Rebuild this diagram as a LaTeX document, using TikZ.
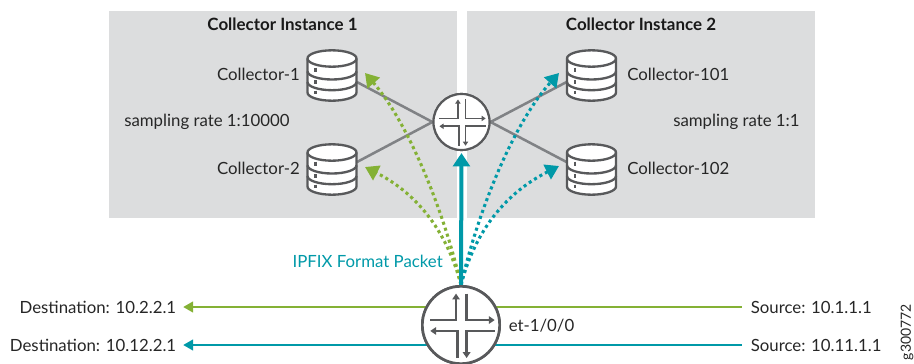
\documentclass[tikz,border=0pt]{standalone}
\usepackage{fontspec}
\setmainfont{Lato}
\usetikzlibrary{arrows.meta}
\definecolor{jgreen}{HTML}{84B135}
\definecolor{jteal}{HTML}{0099A8}
\definecolor{jgray}{HTML}{DCDDDE}
\definecolor{jdark}{HTML}{58595B}
\definecolor{jline}{HTML}{808285}
\tikzset{
  x=0.75pt,y=-0.75pt,
  panel/.style={fill=jgray,draw=none,inner sep=0pt,minimum width=261pt,minimum height=155.25pt},
  lbl/.style={font=\fontsize{12.6pt}{14pt}\selectfont,text=black!85,inner sep=0pt},
  ttl/.style={font=\fontsize{12.7pt}{14pt}\selectfont\bfseries,text=black!90,inner sep=0pt},
  store/.style={rectangle,inner sep=0pt,minimum width=37pt,minimum height=38pt,draw=none},
  rtr/.style={circle,fill=white,draw=jdark,inner sep=0pt},
  link/.style={jline,line width=1.9pt},
  dotg/.style={jgreen,line width=2.3pt,dash pattern=on 2.3pt off 2.4pt,-{Triangle[length=10pt,width=12pt,fill=jgreen]}},
  dott/.style={jteal,line width=2.3pt,dash pattern=on 2.3pt off 2.4pt,-{Triangle[length=10pt,width=12pt,fill=jteal]}},
  flowg/.style={jgreen,line width=1.8pt,-{Triangle[length=7.5pt,width=8pt]}},
  flowt/.style={jteal,line width=1.8pt,-{Triangle[length=7.5pt,width=8pt]}},
}
% database cylinder centred on (#1,#2), 49.5 x 50.5 px
\newcommand{\dbicon}[2]{%
\begin{scope}[shift={(#1,#2)},draw=jdark,line width=1.75pt,fill=white]
  \filldraw (-24.5,-17) -- (-24.5,17) arc[x radius=24.5,y radius=8.2,start angle=180,end angle=0] -- (24.5,-17) arc[x radius=24.5,y radius=8.2,start angle=0,end angle=-180] -- cycle;
  \draw (-24.5,-17) arc[x radius=24.5,y radius=8.2,start angle=180,end angle=0];
  \draw (-24.5,-4.2) arc[x radius=24.5,y radius=8.2,start angle=180,end angle=0];
  \draw (-24.5,6.5) arc[x radius=24.5,y radius=8.2,start angle=180,end angle=0];
  \draw (-16.5,-8) -- (-16.5,-3.5);
  \draw (-16.5,4.5) -- (-16.5,8);
  \draw (-16.5,15) -- (-16.5,18.5);
\end{scope}}
% router glyph centred on (#1,#2), radius #3 px
\newcommand{\rtrglyph}[4]{%
\begin{scope}[shift={(#1,#2)},x=#3*0.75pt/118,y=-#3*0.75pt/118,jdark,line width=#4,-{Triangle[length=2.2*#4,width=2.8*#4]},line join=miter]
  \draw (-93,-15) -- (-15,-15) -- (-15,-95);
  \draw (17,-95) -- (17,-15) -- (102,-15);
  \draw (102,18) -- (17,18) -- (17,100);
  \draw (-11,100) -- (-11,18) -- (-93,18);
\end{scope}}
\begin{document}
\begin{tikzpicture}
\useasboundingbox (0,0) rectangle (914,364);
\node[panel] (p1) at (283,114.5) {};
\node[panel] (p2) at (641,114.5) {};
\node[ttl] (t1) at (282.5,24.5) {Collector Instance 1};
\node[ttl] (t2) at (641,24.5) {Collector Instance 2};

\node[store] (c1) at (332,75.5) {};
\node[store] (c2) at (332,169.5) {};
\node[store] (c3) at (591.5,75.5) {};
\node[store] (c4) at (591.5,169.5) {};
\node[rtr,minimum size=42pt,line width=1.6pt] (r1) at (461.5,122) {};
\node[rtr,minimum size=58pt,line width=2pt] (r2) at (461,325) {};

\draw[link] ([yshift=-4.9pt]c1.east) -- (r1.west);
\draw[link] ([yshift=5.6pt]c2.east) -- (r1.west);
\draw[link] ([yshift=-4.9pt]c3.west) -- (r1.east);
\draw[link] ([yshift=5.6pt]c4.west) -- (r1.east);
\node[rtr,minimum size=42pt,line width=1.6pt] at (r1) {};
\rtrglyph{461.5}{122}{28}{1.4pt}
\dbicon{332}{75.5}
\dbicon{332}{169.5}
\dbicon{591.5}{75.5}
\dbicon{591.5}{169.5}

\node[lbl,anchor=east] (l1) at (300,74.5) {Collector-1};
\node[lbl,anchor=east] (l2) at (300,168.5) {Collector-2};
\node[lbl,anchor=west] (l3) at (627,74.5) {Collector-101};
\node[lbl,anchor=west] (l4) at (627,168.5) {Collector-102};
\node[lbl,anchor=west] (s1) at (124,121.5) {sampling rate 1:10000};
\node[lbl,anchor=west] (s2) at (673,121.5) {sampling rate 1:1};

\coordinate (f) at (461,285);
\coordinate (g1) at (365,73);
\coordinate (g2) at (365,167);
\coordinate (g3) at (559,73);
\coordinate (g4) at (559,166);
\draw[dotg] (f) .. controls (445,215) and (410,125) .. (g1);
\draw[dotg] (f) .. controls (448,235) and (420,195) .. (g2);
\draw[dott] (f) .. controls (477,215) and (512,125) .. (g3);
\draw[dott] (f) .. controls (474,235) and (502,195) .. (g4);
\draw[jteal,line width=3pt,-{Triangle[length=10pt,width=12.5pt]}] (r2.north) -- (r1.south |- 0,153);

\node[lbl,text=jteal,anchor=east] (ip) at (443,261) {IPFIX Format Packet};

\node[lbl,anchor=east] (d1) at (176.5,307) {Destination: 10.2.2.1};
\node[lbl,anchor=east] (d2) at (176.5,345) {Destination: 10.12.2.1};
\node[lbl,anchor=west] (so1) at (750.5,307) {Source: 10.1.1.1};
\node[lbl,anchor=west] (so2) at (750.5,345) {Source: 10.11.1.1};
\node[lbl,anchor=west] (et) at (508.5,326) {et-1/0/0};
\node[font=\fontsize{10.5pt}{12pt}\selectfont,text=black!85,inner sep=0pt,rotate=90] (g) at (907,332) {g300772};

\draw[jgreen,line width=1.8pt] ([xshift=-6.5pt]so1.west) -- (r2.center |- so1.west);
\draw[jteal,line width=1.8pt] ([xshift=-6.5pt]so2.west) -- (r2.center |- so2.west);
\draw[flowg] (r2.center |- d1.east) -- ([xshift=5pt]d1.east);
\draw[flowt] (r2.center |- d2.east) -- ([xshift=5pt]d2.east);
\node[rtr,minimum size=58pt,line width=2pt] at (r2) {};
\rtrglyph{461}{325}{39}{2pt}
\end{tikzpicture}
\end{document}
